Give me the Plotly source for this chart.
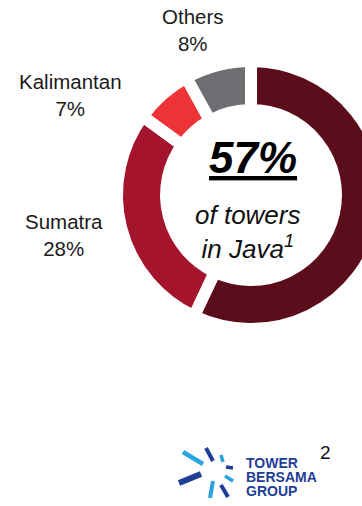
import plotly.graph_objects as go

# Tower share by region
regions = ["Java", "Sumatra", "Kalimantan", "Others"]
shares = [57, 28, 7, 8]
slice_colors = ["#5C0D1B", "#A5142D", "#EE3338", "#6D6E71"]

# Outer label placement (pixel centres) for the non-Java regions
label_regions = ["Others", "Kalimantan", "Sumatra"]
label_xy = [(193, 30), (70, 95), (64, 235)]

W, H = 400, 506


def px(x):
    return x / W


def py(y):
    return 1 - y / H


# donut geometry in pixels
cx, cy, R = 251, 195, 134

fig = go.Figure(
    go.Pie(
        labels=regions,
        values=shares,
        sort=False,
        direction="clockwise",
        rotation=0,
        hole=0.634,
        marker=dict(colors=slice_colors, line=dict(color="white", width=12)),
        textinfo="none",
        hoverinfo="label+percent",
        domain=dict(x=[px(cx - R), px(cx + R)], y=[py(cy + R), py(cy - R)]),
    )
)

annotations = []
total = sum(shares)
for name, (x, y) in zip(label_regions, label_xy):
    pct = round(shares[regions.index(name)] / total * 100)
    annotations.append(
        dict(
            x=px(x), y=py(y), xref="paper", yref="paper",
            text=f"{name}<br>{pct}%", showarrow=False,
            font=dict(family="Liberation Sans, Arial", size=20.5, color="#1a1a1a"),
            xanchor="center", yanchor="middle", align="center",
        )
    )

java_pct = round(shares[0] / total * 100)
annotations.append(
    dict(
        x=px(253), y=py(157), xref="paper", yref="paper",
        text=f"<b><i><u>{java_pct}%</u></i></b>", showarrow=False,
        font=dict(family="Liberation Sans, Arial", size=44, color="#000000"),
        xanchor="center", yanchor="middle",
    )
)
annotations.append(
    dict(
        x=px(248), y=py(232), xref="paper", yref="paper",
        text="<i>of towers<br>in Java<sup>1</sup></i>", showarrow=False,
        font=dict(family="Liberation Sans, Arial", size=26, color="#111111"),
        xanchor="center", yanchor="middle", align="center",
    )
)

# page number
annotations.append(
    dict(
        x=px(325), y=py(452), xref="paper", yref="paper",
        text="2", showarrow=False,
        font=dict(family="Liberation Sans, Arial", size=19, color="#111111"),
        xanchor="center", yanchor="middle",
    )
)

# company wordmark, three tightly stacked lines
logo_blue = "#1F3E95"
for i, word in enumerate(["TOWER", "BERSAMA", "GROUP"]):
    annotations.append(
        dict(
            x=px(244), y=py(462 + i * 14), xref="paper", yref="paper",
            text=f"<b>{word}</b>", showarrow=False, height=13,
            font=dict(family="Liberation Sans, Arial", size=14, color=logo_blue),
            xanchor="left", yanchor="middle",
        )
    )

# starburst emblem of the wordmark
light_blue = "#2AA4E0"
rays = [
    ((183, 452), (203, 464), light_blue, 4.5),
    ((206, 448), (213, 461), logo_blue, 4),
    ((221, 455), (223, 462), light_blue, 3.5),
    ((226, 467), (233, 468), logo_blue, 3.5),
    ((225, 476), (233, 481), light_blue, 3.5),
    ((221, 485), (228, 497), logo_blue, 4),
    ((213, 481), (210, 498), light_blue, 4),
    ((179, 483), (201, 474), logo_blue, 6),
]
shapes = [
    dict(
        type="line", xref="paper", yref="paper",
        x0=px(a[0]), y0=py(a[1]), x1=px(b[0]), y1=py(b[1]),
        line=dict(color=c, width=w),
    )
    for a, b, c, w in rays
]

fig.update_layout(
    width=W, height=H,
    margin=dict(l=0, r=0, t=0, b=0),
    paper_bgcolor="white", plot_bgcolor="white",
    showlegend=False,
    annotations=annotations,
    shapes=shapes,
)

fig.write_html("out.html")
